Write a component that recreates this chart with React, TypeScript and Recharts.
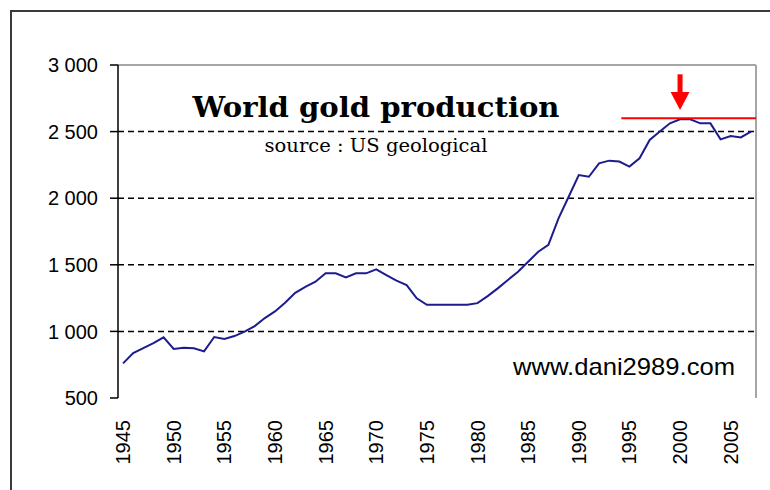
import React from "react";
import { LineChart, Line, XAxis, YAxis, ReferenceLine } from "recharts";

const years: number[] = [];
for (let y = 1945; y <= 2007; y++) years.push(y);

const production: number[] = [
  760, 838, 875, 912, 955, 868, 877, 873, 850, 958,
  943, 965, 998, 1040, 1100, 1150, 1215, 1290, 1335, 1373,
  1436, 1436, 1406, 1436, 1436, 1466, 1423, 1381, 1348, 1248,
  1200, 1200, 1200, 1200, 1200, 1212, 1265, 1323, 1386, 1448,
  1523, 1598, 1649, 1849, 2011, 2174, 2161, 2262, 2282, 2275,
  2237, 2300, 2437, 2500, 2562, 2592, 2592, 2562, 2562, 2442,
  2467, 2456, 2500,
];

const labelYears = [1945, 1950, 1955, 1960, 1965, 1970, 1975, 1980, 1985, 1990, 1995, 2000, 2005];
const yTicks = [500, 1000, 1500, 2000, 2500, 3000];
const gridValues = [1000, 1500, 2000, 2500];
const peakValue = 2600;
const peakLineStart = 1994.2;
const peakYear = 2000;
const arrowTop = 2930;
const arrowTip = 2662;

const title = "World gold production";
const subtitle = "source : US geological";
const watermark = "www.dani2989.com";

const data = years.map((year, i) => ({ year, value: production[i] }));
const xMin = years[0] - 0.5;
const xMax = years[years.length - 1] + 0.5;
const tickMarks = [...years.map((y) => y - 0.5), xMax];

const fmt = (v: number) => String(v).replace(/\B(?=(\d{3})+(?!\d))/g, " ");

const RotTick = (props: any) => {
  const { x, y, payload } = props;
  return (
    <text
      x={x}
      y={y}
      transform={`rotate(-90 ${x} ${y})`}
      textAnchor="end"
      dominantBaseline="central"
      fontSize={20}
      fontFamily="'Liberation Sans', Arial, sans-serif"
      fill="#000"
    >
      {payload.value}
    </text>
  );
};

const Arrow = (props: any) => {
  const { x1, y1, x2, y2 } = props;
  const cx = (x1 + x2) / 2;
  const top = Math.min(y1, y2);
  const tip = Math.max(y1, y2);
  const headH = 18;
  const headW = 9.5;
  const shaftW = 2.5;
  return (
    <g>
      <rect x={cx - shaftW} y={top} width={shaftW * 2} height={tip - top - headH + 1} fill="#ff0000" />
      <path d={`M${cx - headW},${tip - headH} L${cx + headW},${tip - headH} L${cx},${tip} Z`} fill="#ff0000" />
    </g>
  );
};

export default function App() {
  return (
    <div style={{ position: "absolute", left: 0, top: 0, width: 770, height: 490, overflow: "hidden", background: "#fff" }}>
      <div style={{ position: "absolute", left: 10, top: 10, width: 800, height: 520, border: "2px solid #3a3a3a" }} />
      <div style={{ position: "absolute", left: 0, top: 0 }}>
        <LineChart width={770} height={490} data={data} margin={{ top: 65, right: 14, left: 0, bottom: 0 }}>
          <XAxis
            xAxisId="marks"
            type="number"
            dataKey="year"
            domain={[xMin, xMax]}
            ticks={tickMarks}
            interval={0}
            tick={false}
            tickSize={8}
            tickLine={{ stroke: "#000", strokeWidth: 1.5 }}
            axisLine={{ stroke: "#000", strokeWidth: 1.5 }}
            height={0}
            allowDataOverflow
          />
          <XAxis
            xAxisId="labels"
            type="number"
            dataKey="year"
            domain={[xMin, xMax]}
            ticks={labelYears}
            interval={0}
            tickLine={false}
            axisLine={false}
            tickSize={8}
            tickMargin={14}
            tick={<RotTick />}
            height={92}
            allowDataOverflow
          />
          <YAxis
            type="number"
            domain={[500, 3000]}
            ticks={yTicks}
            interval={0}
            tickFormatter={fmt}
            width={118}
            tickSize={8}
            tickMargin={12}
            tickLine={{ stroke: "#000", strokeWidth: 1.5 }}
            axisLine={{ stroke: "#000", strokeWidth: 1.5 }}
            tick={{ fontSize: 20, fill: "#000", fontFamily: "'Liberation Sans', Arial, sans-serif" }}
            allowDataOverflow
          />
          {gridValues.map((v) => (
            <ReferenceLine key={v} xAxisId="labels" y={v} stroke="#000" strokeWidth={1.5} strokeDasharray="6 4" />
          ))}
          <ReferenceLine xAxisId="labels" y={3000} stroke="#a6a6a6" strokeWidth={2} />
          <ReferenceLine xAxisId="labels" x={xMax} stroke="#a6a6a6" strokeWidth={2} />
          <Line
            xAxisId="labels"
            type="linear"
            dataKey="value"
            stroke="#1c1c8c"
            strokeWidth={2}
            dot={false}
            isAnimationActive={false}
          />
          <ReferenceLine
            xAxisId="labels"
            segment={[{ x: peakLineStart, y: peakValue }, { x: xMax, y: peakValue }]}
            stroke="#ff0000"
            strokeWidth={2}
          />
          <ReferenceLine
            xAxisId="labels"
            segment={[{ x: peakYear, y: arrowTop }, { x: peakYear, y: arrowTip }]}
            stroke="#ff0000"
            shape={<Arrow />}
          />
        </LineChart>
      </div>
      <svg width={770} height={490} style={{ position: "absolute", left: 0, top: 0, pointerEvents: "none" }}>
        <text x={376} y={117} textAnchor="middle" fontSize={28} fontWeight="bold" fontFamily="'DejaVu Serif', serif" fill="#000" textLength={367} lengthAdjust="spacingAndGlyphs">
          {title}
        </text>
        <text x={376} y={152} textAnchor="middle" fontSize={19} fontFamily="'DejaVu Serif', serif" fill="#000" textLength={223} lengthAdjust="spacingAndGlyphs">
          {subtitle}
        </text>
        <text x={513} y={375} textAnchor="start" fontSize={24} fontFamily="'Liberation Sans', Arial, sans-serif" fill="#000" textLength={222} lengthAdjust="spacingAndGlyphs">
          {watermark}
        </text>
      </svg>
    </div>
  );
}
